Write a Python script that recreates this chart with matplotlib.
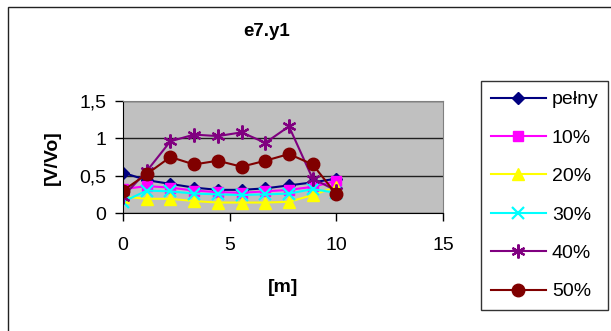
import matplotlib
matplotlib.use("Agg")
import matplotlib.pyplot as plt
from matplotlib.patches import Rectangle

plt.rcParams['font.family'] = ['Liberation Sans', 'DejaVu Sans']

# Distance along the section [m]
x_m = [0, 1.11, 2.22, 3.33, 4.44, 5.56, 6.67, 7.78, 8.89, 10]

# Relative velocity V/Vo for each case
pelny = [0.54, 0.44, 0.39, 0.34, 0.31, 0.31, 0.33, 0.37, 0.41, 0.46]
p10 = [0.32, 0.36, 0.34, 0.30, 0.28, 0.27, 0.29, 0.31, 0.35, 0.43]
p20 = [0.22, 0.19, 0.19, 0.16, 0.14, 0.14, 0.14, 0.15, 0.24, 0.35]
p30 = [0.15, 0.30, 0.29, 0.26, 0.25, 0.24, 0.25, 0.26, 0.32, 0.27]
p40 = [0.22, 0.56, 0.96, 1.05, 1.03, 1.08, 0.94, 1.16, 0.46, 0.30]
p50 = [0.30, 0.52, 0.75, 0.65, 0.70, 0.62, 0.70, 0.79, 0.65, 0.25]

labels = ['pełny', '10%', '20%', '30%', '40%', '50%']
x_ticks = [0, 5, 10, 15]
y_ticks = [0, 0.5, 1, 1.5]
y_tick_labels = ['0', '0,5', '1', '1,5']

W, H = 611, 331
fig = plt.figure(figsize=(W / 100, H / 100), dpi=100)

# outer chart frame (runs off the right and bottom edges)
fig.patches.append(Rectangle((8 / W, -0.1), 1.2, 1 - 7 / H + 0.1,
                             transform=fig.transFigure, fill=False,
                             edgecolor='#222222', linewidth=1.0))

ax = fig.add_axes([123 / W, 1 - 213 / H, 320 / W, 112 / H])
ax.set_facecolor('#C0C0C0')

series = [
    (pelny, '#000080', 'D', 6.5),
    (p10, '#FF00FF', 's', 7.5),
    (p20, '#FFFF00', '^', 8),
    (p30, '#00FFFF', 'x', 8),
    (p40, '#800080', (6, 2, 0), 10),
    (p50, '#800000', 'o', 9),
]
for (vals, col, mk, ms), lab in zip(series, labels):
    kw = {}
    if mk in ('x',) or isinstance(mk, tuple):
        kw['markeredgewidth'] = 1.6
    ax.plot(x_m, vals, color=col, marker=mk, markersize=ms, linewidth=1.5,
            markerfacecolor=col, markeredgecolor=col, label=lab, **kw)

ax.set_xlim(0, 15)
ax.set_ylim(0, 1.5)
ax.set_xticks(x_ticks)
ax.set_xticklabels([str(t) for t in x_ticks])
ax.set_yticks(y_ticks)
ax.set_yticklabels(y_tick_labels)
ax.yaxis.grid(True, color='#202020', linewidth=1.0)
ax.set_axisbelow(True)
for s in ('top', 'right'):
    ax.spines[s].set_color('#808080')
for s in ('left', 'bottom'):
    ax.spines[s].set_color('black')
ax.tick_params(axis='both', direction='out', length=6, width=1, color='black',
               labelsize=14)
ax.tick_params(axis='x', pad=11)
ax.tick_params(axis='y', pad=6)

fig.text(266.5 / W, 1 - 31 / H, 'e7.y1', ha='center', va='center',
         fontsize=13.5, fontweight='bold')
fig.text(283.5 / W, 1 - 288 / H, '[m]', ha='center', va='center',
         fontsize=14, fontweight='bold')
fig.text(52 / W, 1 - 158 / H, '[V/Vo]', ha='center', va='center',
         fontsize=14, fontweight='bold', rotation=90)

leg = fig.legend(loc='upper left', bbox_to_anchor=(481 / W, 1 - 81 / H),
                 fontsize=14, frameon=True, fancybox=False, shadow=False,
                 handlelength=2.85, handletextpad=0.3, labelspacing=1.07,
                 borderpad=0.5, borderaxespad=0)
leg.get_frame().set_edgecolor('black')
leg.get_frame().set_linewidth(1.0)

fig.savefig('out.png', dpi=100)
